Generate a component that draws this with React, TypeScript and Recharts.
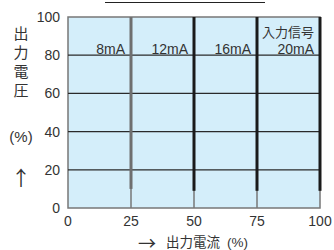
import React from "react";
import {
  ComposedChart,
  Line,
  XAxis,
  YAxis,
  ReferenceArea,
  ReferenceLine,
  ReferenceDot,
  Label,
} from "recharts";

// 出力電流 vs 出力電圧 (入力信号ごとの電流制限)
const xTicks = [0, 25, 50, 75, 100];
const yTicks = [0, 20, 40, 60, 80, 100];
const gridX = [25, 50, 75];
const gridY = [20, 40, 60, 80];

// 入力信号ごとの縦線: x位置と下端の値
const limitX = [25, 50, 75, 100];
const limitFrom = [10, 9, 9, 9];
const limitColor = ["#6f6f6f", "#1a1a1a", "#1a1a1a", "#1a1a1a"];
const signalLabels = ["8mA", "12mA", "16mA", "20mA"];
const labelY = 83;
const titleY = 92;

const data = limitX.map((x, i) => ({ x, y: limitFrom[i] }));

const FONT = "'Liberation Sans', Arial, 'Noto Sans CJK JP', sans-serif";
const ARROW_FONT = "'Noto Sans CJK JP', sans-serif";
const TEXT = "#333";

const YLabel = () => {
  const chars = [
    { t: "出", y: 33 },
    { t: "力", y: 52 },
    { t: "電", y: 71 },
    { t: "圧", y: 90 },
    { t: "(%)", y: 136 },
  ];
  return (
    <g fill={TEXT}>
      {chars.map((c) => (
        <text
          key={c.t}
          x={21}
          y={c.y}
          textAnchor="middle"
          dominantBaseline="central"
          fontSize={15}
          fontFamily={FONT}
        >
          {c.t}
        </text>
      ))}
      <text
        x={21}
        y={177}
        textAnchor="middle"
        dominantBaseline="central"
        fontSize={20}
        fontFamily={ARROW_FONT}
      >
        ↑
      </text>
    </g>
  );
};

const XLabel = () => (
  <g fill={TEXT}>
    <text x={147} y={242} textAnchor="middle" dominantBaseline="central" fontSize={18} fontFamily={ARROW_FONT}>
      →
    </text>
    <text x={166} y={242} dominantBaseline="central" fontSize={13.5} fontFamily={FONT}>
      出力電流
    </text>
    <text x={227} y={242} dominantBaseline="central" fontSize={13.5} fontFamily={FONT}>
      (%)
    </text>
  </g>
);

export default function App() {
  const tick = { fontSize: 14, fill: TEXT, fontFamily: FONT };
  return (
    <div style={{ position: "absolute", left: 0, top: 0, width: 334, height: 250, background: "#fff" }}>
      <div
        style={{
          position: "absolute",
          left: 105,
          top: 2,
          width: 160,
          height: 1,
          background: "#222",
        }}
      />
      <ComposedChart
        width={334}
        height={250}
        margin={{ top: 17, right: 14, left: 0, bottom: 0 }}
        data={data}
      >
        <XAxis
          type="number"
          dataKey="x"
          domain={[0, 100]}
          ticks={xTicks}
          axisLine={false}
          tickLine={false}
          height={42}
          tick={tick}
          interval={0}
        >
          <Label content={<XLabel />} />
        </XAxis>
        <YAxis
          type="number"
          domain={[0, 100]}
          ticks={yTicks}
          axisLine={false}
          tickLine={false}
          width={68}
          tick={tick}
          interval={0}
        >
          <Label content={<YLabel />} />
        </YAxis>
        <ReferenceArea
          x1={0}
          x2={100}
          y1={0}
          y2={100}
          fill="#d4eefa"
          fillOpacity={1}
          stroke="#777"
          strokeWidth={1.5}
        />
        {gridX.map((x) => (
          <ReferenceLine key={"gx" + x} x={x} stroke="#777" strokeWidth={1.5} />
        ))}
        {gridY.map((y) => (
          <ReferenceLine key={"gy" + y} y={y} stroke="#2a2a2a" strokeWidth={1.2} />
        ))}
        {limitX.map((x, i) => (
          <ReferenceLine
            key={"lim" + x}
            segment={[
              { x, y: limitFrom[i] },
              { x, y: 100 },
            ]}
            stroke={limitColor[i]}
            strokeWidth={3}
          />
        ))}
        {limitX.map((x, i) => (
          <ReferenceDot
            key={"lab" + x}
            x={x}
            y={labelY}
            r={0}
            fill="none"
            stroke="none"
            label={{
              value: signalLabels[i],
              position: "left",
              offset: 6,
              fontSize: 14,
              fill: TEXT,
              fontFamily: FONT,
            }}
          />
        ))}
        <ReferenceDot
          x={100}
          y={titleY}
          r={0}
          fill="none"
          stroke="none"
          label={{
            value: "入力信号",
            position: "left",
            offset: 6,
            fontSize: 13,
            fill: TEXT,
            fontFamily: FONT,
          }}
        />
        <Line
          dataKey="y"
          stroke="none"
          dot={false}
          activeDot={false}
          isAnimationActive={false}
        />
      </ComposedChart>
    </div>
  );
}
